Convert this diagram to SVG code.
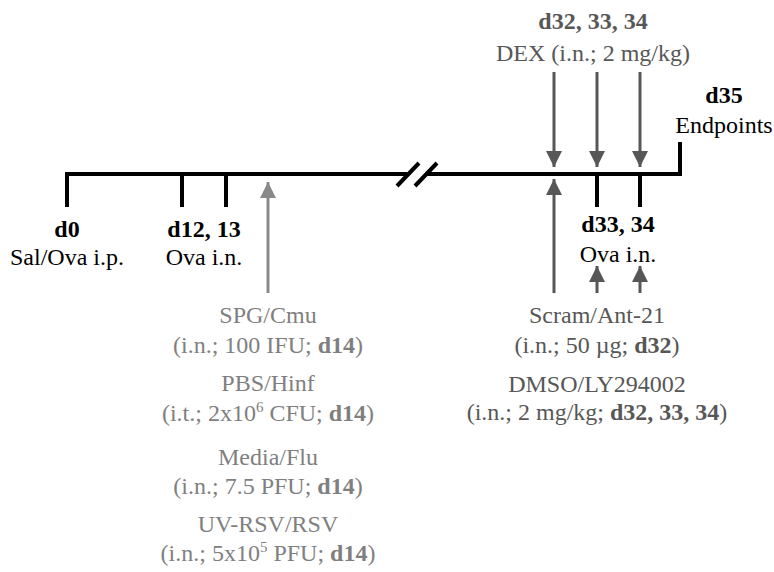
<svg xmlns="http://www.w3.org/2000/svg" width="774" height="572" viewBox="0 0 774 572">
<style>
text{font-family:'Liberation Serif','DejaVu Serif',serif;font-size:24px;text-anchor:middle}
.b{font-weight:bold}
.k{fill:#000}
.g1{fill:#7f7f7f}
.g2{fill:#575757}
.tl{stroke:#000;stroke-width:4;fill:none}
.a1{stroke:#8a8a8a;stroke-width:3;fill:none}
.a2{stroke:#575757;stroke-width:3;fill:none}
</style>
<defs>
<marker id="h1" markerUnits="userSpaceOnUse" markerWidth="18" markerHeight="16" refX="16" refY="8" orient="auto"><path d="M0,0 L16,8 L0,16 Z" fill="#8a8a8a"/></marker>
<marker id="h2" markerUnits="userSpaceOnUse" markerWidth="18" markerHeight="16" refX="16" refY="8" orient="auto"><path d="M0,0 L16,8 L0,16 Z" fill="#575757"/></marker>
</defs>
<g id="timeline">
<path class="tl" d="M67,207 V174 H407"/>
<path class="tl" d="M427,174 H680 V142"/>
<path class="tl" d="M182,174 V207 M226,174 V207 M597,174 V207 M640,174 V207"/>
<path class="tl" stroke-width="3" d="M397,186 L419,163 M415,186 L437,163"/>
</g>
<g id="connectors">
<path class="a1" d="M268,293 V182" marker-end="url(#h1)"/>
<path class="a2" d="M554,72 V167" marker-end="url(#h2)"/>
<path class="a2" d="M597,72 V167" marker-end="url(#h2)"/>
<path class="a2" d="M640,72 V167" marker-end="url(#h2)"/>
<path class="a2" d="M554,293 V179" marker-end="url(#h2)"/>
<path class="a2" d="M597,293 V266" marker-end="url(#h2)"/>
<path class="a2" d="M640,293 V266" marker-end="url(#h2)"/>
</g>
<g font-family="'Liberation Serif','DejaVu Serif',serif">
<g id="d0">
<text class="k b" x="67" y="237">d0</text>
<text class="k" x="67" y="265">Sal/Ova i.p.</text>
</g>
<g id="d12">
<text class="k b" x="204" y="237">d12, 13</text>
<text class="k" x="204" y="265">Ova i.n.</text>
</g>
<g id="infections">
<text class="g1" x="268" y="323">SPG/Cmu</text>
<text class="g1" x="268" y="353">(i.n.; 100 IFU; <tspan class="b">d14</tspan>)</text>
<text class="g1" x="268" y="391">PBS/Hinf</text>
<text class="g1" x="268" y="421">(i.t.; 2x10<tspan font-size="15" dy="-9">6</tspan><tspan dy="9"> CFU; </tspan><tspan class="b">d14</tspan>)</text>
<text class="g1" x="268" y="465">Media/Flu</text>
<text class="g1" x="268" y="494">(i.n.; 7.5 PFU; <tspan class="b">d14</tspan>)</text>
<text class="g1" x="268" y="532">UV-RSV/RSV</text>
<text class="g1" x="268" y="561">(i.n.; 5x10<tspan font-size="15" dy="-9">5</tspan><tspan dy="9"> PFU; </tspan><tspan class="b">d14</tspan>)</text>
</g>
<g id="dex">
<text class="g2 b" x="593" y="29">d32, 33, 34</text>
<text class="g2" x="593" y="61">DEX (i.n.; 2 mg/kg)</text>
</g>
<g id="d35">
<text class="k b" x="724" y="103">d35</text>
<text class="k" x="724" y="133">Endpoints</text>
</g>
<g id="d33">
<text class="k b" x="618" y="232">d33, 34</text>
<text class="k" x="618" y="262">Ova i.n.</text>
</g>
<g id="treatments">
<text class="g2" x="597" y="323">Scram/Ant-21</text>
<text class="g2" x="597" y="353">(i.n.; 50 µg; <tspan class="b">d32</tspan>)</text>
<text class="g2" x="597" y="392">DMSO/LY294002</text>
<text class="g2" x="597" y="420">(i.n.; 2 mg/kg; <tspan class="b">d32, 33, 34</tspan>)</text>
</g>
</g>
</svg>
